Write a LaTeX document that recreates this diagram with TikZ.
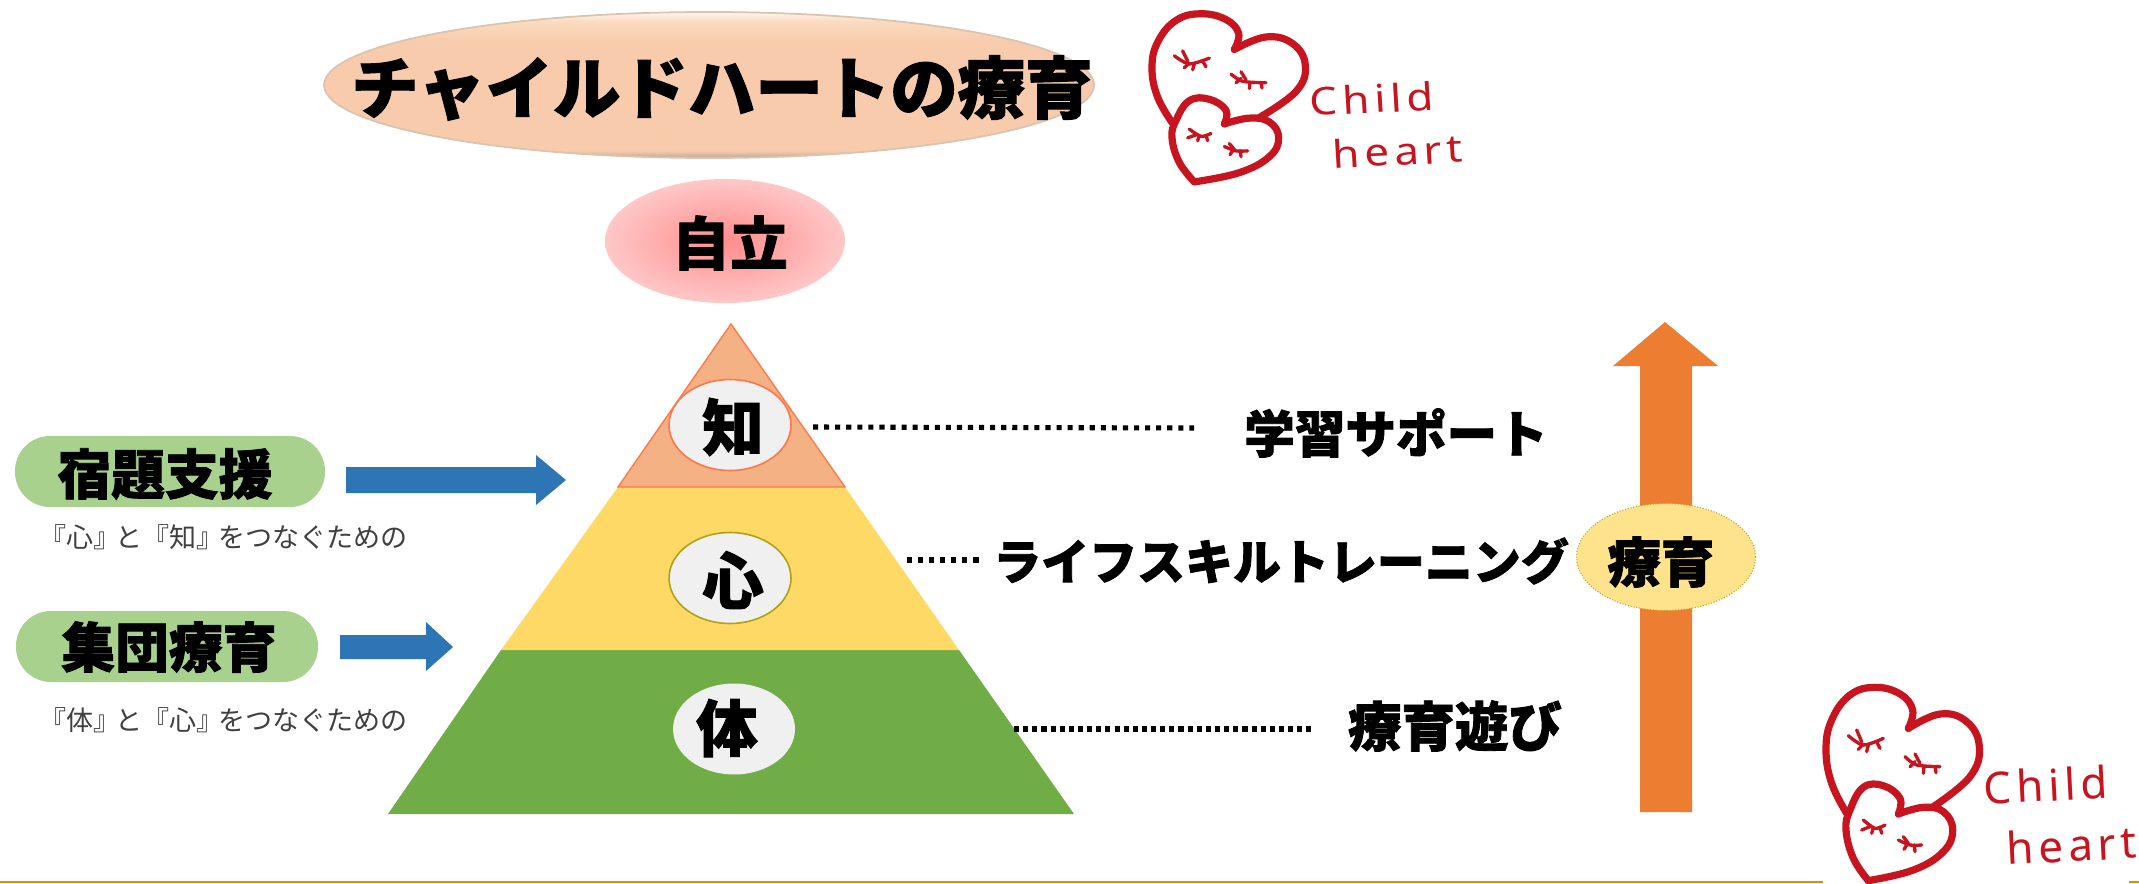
\documentclass[tikz,border=0pt]{standalone}
\usepackage{fontspec}
\newfontfamily\cjk[BoldFeatures={FakeBold=1.5}]{Noto Sans CJK JP}
\newfontfamily\hand[LetterSpace=11]{Noto Sans}
\definecolor{heartred}{HTML}{C8141E}
\definecolor{arrowblue}{HTML}{2E75B6}
\definecolor{arroworange}{HTML}{ED7D31}
\definecolor{pillgreen}{HTML}{A9D18E}
\definecolor{tiertop}{HTML}{F4B183}
\definecolor{tiermid}{HTML}{FFD966}
\definecolor{tierlow}{HTML}{70AD47}
\definecolor{disc}{HTML}{F0F0F0}
\definecolor{peach}{HTML}{F8CBAD}
\definecolor{peachlight}{HTML}{FBDCC0}
\definecolor{peachpale}{HTML}{FFF8EE}
\definecolor{peachshadow}{HTML}{B8A898}
\definecolor{peachrim}{HTML}{D8C4B0}
\definecolor{rulecolor}{HTML}{ED8B00}
\pgfdeclareverticalshading{titleshade}{100bp}{
  color(0bp)=(white);
  color(25bp)=(peachshadow);
  color(27.5bp)=(peach);
  color(65bp)=(peach);
  color(72bp)=(peachlight);
  color(75bp)=(peachpale);
  color(100bp)=(white)}
\newcommand{\pxu}{*0.569pt}
\tikzset{
  heavy/.style={font=\cjk\bfseries\fontsize{#1}{#1}\selectfont, text=black, inner sep=0pt},
  subtext/.style={font=\cjk\fontsize{15.4pt}{15.4pt}\selectfont, text=black!75, inner sep=0pt, anchor=west},
  tiertext/.style={heavy=35pt},
  disclabel/.style={ellipse, fill=disc, minimum width=122\pxu, minimum height=91\pxu, inner sep=0pt},
  pill/.style={fill=pillgreen, rounded corners=35\pxu},
  dotline/.style={line width=2.9pt, black, dash pattern=on 2.9pt off 3.4pt},
  eye/.style={heartred, line width=1.9pt, line cap=round},
  heartline/.style={heartred, line width=4.1pt, line cap=round, line join=round},
  handtext/.style={font=\hand\fontsize{25pt}{25pt}\selectfont, text=heartred, inner sep=0pt}
}
\usetikzlibrary{shapes.geometric}
\newcommand{\childlogo}[4]{%
\begin{scope}[shift={(#1,#2)}, x=0.006667cm, y=-#3cm]
  \draw[heartline] plot[smooth, tension=.7] coordinates {(325,175)(338,120)(300,72)(225,52)(150,75)(95,150)(78,240)(95,340)(140,430)};
  \draw[heartline] plot[smooth, tension=.7] coordinates {(325,175)(420,132)(500,155)(538,230)(510,320)(400,410)};
  \draw[heartline] plot[smooth, tension=.7] coordinates {(295,432)(300,385)(250,347)(190,352)(150,420)(138,480)(160,565)(205,632)};
  \draw[heartline] plot[smooth, tension=.7] coordinates {(295,432)(370,412)(430,425)(458,480)(430,545)(340,600)(205,632)};
  \draw[eye] plot[smooth] coordinates {(145,197)(190,225)(250,205)};
  \draw[eye] (170,180) -- (185,215) (175,238) -- (190,222) (200,245) -- (205,225) (240,235) -- (230,215);
  \draw[eye] plot[smooth] coordinates {(315,260)(350,285)(420,290)};
  \draw[eye] (345,252) -- (360,280) (330,290) -- (345,275) (370,310) -- (372,290) (408,308) -- (405,290);
  \draw[eye] plot[smooth] coordinates {(190,450)(225,475)(255,465)};
  \draw[eye] (185,480) -- (210,470) (215,490) -- (220,472) (245,490) -- (240,472);
  \draw[eye] plot[smooth] coordinates {(295,510)(330,525)(365,525)};
  \draw[eye] (310,500) -- (325,520) (312,538) -- (322,522) (345,545) -- (343,525);
  \node[handtext, yscale=#4, transform shape, rotate=3] (child#1) at (737,345) {Child};
  \node[handtext, yscale=#4, transform shape, rotate=3] (heart#1) at (815,525) {heart};
\end{scope}}
\begin{document}
\begin{tikzpicture}[x=0.02cm, y=-0.02cm]
\clip (0,0) rectangle (2139,883);
\fill[white] (0,0) rectangle (2139,883);

% bottom rule
\fill[rulecolor] (0,880.5) rectangle (1823,883);
\fill[rulecolor] (2129,880.5) rectangle (2139,883);

% title
\path[shading=titleshade, draw=peachrim, line width=1pt] (709,85) ellipse [x radius=385, y radius=73];
\node[heavy=38.4pt] (title) at (722,88) {チャイルドハートの療育};

% goal
\shade[inner color=red!45!white, outer color=red!22!white] (725,241) ellipse [x radius=120, y radius=62];
\node[heavy=33pt] (goal) at (730,243) {自立};

% pyramid
\fill[tierlow] (388,814) -- (1074,814) -- (959,650) -- (501,650) -- cycle;
\fill[tiermid] (501,650) -- (959,650) -- (845,487) -- (618,487) -- cycle;
\filldraw[fill=tiertop, draw=red!50!orange!70!white, line width=.8pt] (618,487) -- (845,487) -- (731,324) -- cycle;

\node[disclabel, draw=red!55!orange!70!white, line width=.9pt] (chiC) at (730,425) {};
\node[disclabel, draw=olive!70!tiermid, line width=.9pt] (shinC) at (730,578) {};
\node[disclabel] (taiC) at (734,729) {};
\node[tiertext] (chi) at (733,427) {知};
\node[tiertext] (shin) at (733,580) {心};
\node[tiertext] (tai) at (727,728) {体};

% dotted connectors
\coordinate (d1a) at (813,427);
\coordinate (d1b) at (1194,428);
\coordinate (d2a) at (907,560);
\coordinate (d2b) at (980,560);
\coordinate (d3a) at (1014,729);
\coordinate (d3b) at (1314,729);
\draw[dotline] (d1a) -- (d1b);
\draw[dotline] (d2a) -- (d2b);
\draw[dotline, dash pattern=on 2.9pt off 2.3pt] (d3a) -- (d3b);

% right labels
\node[heavy=28.8pt] (r1) at (1396,433) {学習サポート};
\node[heavy=27.3pt] (r2) at (1281,561) {ライフスキルトレーニング};
\node[heavy=30.4pt] (r3) at (1455,726) {療育遊び};

% orange arrow
\fill[arroworange] (1640,812) -- (1692,812) -- (1692,366) -- (1718,366) -- (1665,322) -- (1613,366) -- (1640,366) -- cycle;
\node[ellipse, fill=tiermid!75!white, draw=olive!60!tiermid, densely dotted, line width=.6pt, minimum width=179\pxu, minimum height=107\pxu, inner sep=0pt] (ryoE) at (1666,557) {};
\node[heavy=30.4pt] (ryo) at (1661,562) {療育};

% left pills
\fill[pill] (15,436) rectangle (325,507);
\fill[pill] (16,611) rectangle (318,682);
\node[heavy=30.6pt] (p1) at (165,474) {宿題支援};
\node[heavy=30.6pt] (p2) at (169,647) {集団療育};
\node[subtext] (s1) at (39,537) {『心』\kern-3pt と『知』\kern-3pt をつなぐための};
\node[subtext] (s2) at (39,720) {『体』\kern-3pt と『心』\kern-3pt をつなぐための};

% blue arrows
\fill[arrowblue] (346,467) -- (536,467) -- (536,455) -- (566,480) -- (536,505) -- (536,493) -- (346,493) -- cycle;
\fill[arrowblue] (340,635) -- (426,635) -- (426,622) -- (453,647) -- (426,671) -- (426,659) -- (340,659) -- cycle;

% logos
\childlogo{1126}{-1.3}{0.0058}{0.87}
\childlogo{1800}{670}{0.006667}{1}
\end{tikzpicture}
\end{document}
